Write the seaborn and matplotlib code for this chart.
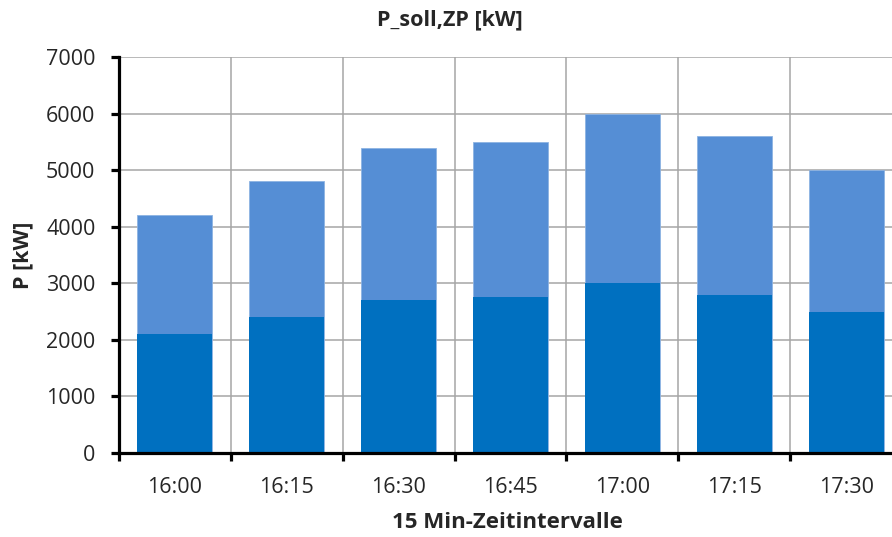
import matplotlib
matplotlib.use("Agg")
import matplotlib.pyplot as plt
import seaborn as sns
import pandas as pd
import numpy as np
from matplotlib.ticker import FixedLocator

# Data
intervals = ["16:00", "16:15", "16:30", "16:45", "17:00", "17:15", "17:30"]
p_base = [2100, 2400, 2700, 2750, 3000, 2800, 2500]
p_total = [4200, 4800, 5400, 5500, 6000, 5600, 5000]
y_ticks = [0, 1000, 2000, 3000, 4000, 5000, 6000, 7000]

title = "P_soll,ZP [kW]"
x_label = "15 Min-Zeitintervalle"
y_label = "P [kW]"

dark = "#0070C0"
light = "#558ED5"

sns.set_theme(style="white")
plt.rcParams["font.family"] = ["Open Sans", "DejaVu Sans"]

df = pd.DataFrame({"interval": intervals, "base": p_base, "total": p_total})

fig = plt.figure(figsize=(8.92, 5.37), dpi=100)
ax = fig.add_axes([119/892, 1-453/537, 783/892, 396/537])

sns.barplot(data=df, x="interval", y="total", color=light, saturation=1,
            width=0.67, ax=ax, edgecolor="#8DB3E2", linewidth=0.6, zorder=2)
sns.barplot(data=df, x="interval", y="base", color=dark, saturation=1,
            width=0.67, ax=ax, linewidth=0, zorder=3)

ax.set_xlim(-0.5, len(intervals) - 0.5)
ax.set_ylim(0, 7000)
ax.set_yticks(y_ticks)
ax.set_yticklabels([str(v) for v in y_ticks])

# Grid
for v in y_ticks[1:]:
    ax.axhline(v, color="#A6A6A6", lw=1.1, zorder=1)
for b in np.arange(0.5, len(intervals) - 0.5, 1.0):
    ax.axvline(b, color="#A6A6A6", lw=1.1, zorder=1)

ax.set_xlabel("")
ax.set_ylabel("")

for s in ["top", "right"]:
    ax.spines[s].set_visible(False)
for s in ["left", "bottom"]:
    ax.spines[s].set_color("black")
    ax.spines[s].set_linewidth(2.3)
    ax.spines[s].set_zorder(5)

ax.tick_params(axis="y", which="major", direction="out", length=6, width=2.3,
               color="black", labelsize=15.5, pad=11, left=True)
ax.tick_params(axis="x", which="major", length=0, labelsize=15.5, pad=17)
ax.xaxis.set_minor_locator(FixedLocator(np.arange(-0.5, len(intervals), 1.0)))
ax.tick_params(axis="x", which="minor", direction="out", length=6, width=2.3,
               color="black", bottom=True)

fig.text(450/892, 1-20/537, title, ha="center", va="center",
         fontsize=15.5, fontweight="bold")
fig.text(507/892, 1-528/537, x_label, ha="center", va="baseline",
         fontsize=16, fontweight="bold")
fig.text(23/892, 1-255/537, y_label, ha="center", va="center",
         fontsize=15.5, fontweight="bold", rotation=90)

fig.savefig("out.png", dpi=100)
